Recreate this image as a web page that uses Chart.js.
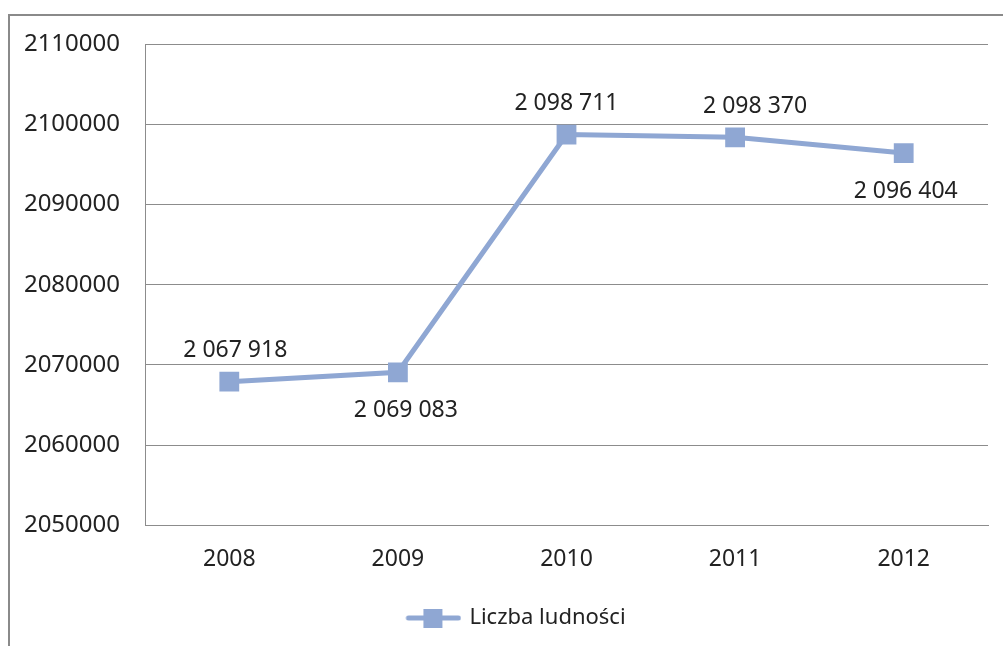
<!DOCTYPE html>
<html>
<head>
<meta charset="utf-8">
<script src="https://cdn.jsdelivr.net/npm/chart.js@4.4.0/dist/chart.umd.min.js"></script>
<style>
html,body{margin:0;padding:0;background:#fff;overflow:hidden;}
#wrap{position:relative;width:1003px;height:646px;}
#frame{position:absolute;left:8px;top:14px;width:1100px;height:700px;border-left:2px solid #8a8a8a;border-top:2px solid #8a8a8a;}
canvas{position:absolute;left:0;top:0;}
</style>
</head>
<body>
<div id="wrap"><div id="frame"></div><canvas id="myChart" width="1003" height="646"></canvas></div>
<script>
'use strict';

const years=['2008','2009','2010','2011','2012'];
const population=[2067918,2069083,2098711,2098370,2096404];
const labelSide=['above','below','above','above','below'];
const yMin=2050000;
const yMax=2110000;
const yStep=10000;

const lineColor='#8fa7d3';
const textColor='#222222';
const fontFamily='"Noto Sans", "Open Sans", sans-serif';
// small horizontal nudges for the value labels (pixels)
const labelNudge=[6,8,0,20,2];

function formatNum(n){
  return String(n).replace(/\B(?=(\d{3})+(?!\d))/g,' ');
}

// legend icon: line with square marker, like the office chart
// (blank space on the left pushes the centered legend a bit to the right)
const iconShift=46;
const legendIcon=document.createElement('canvas');
legendIcon.width=56+iconShift;
legendIcon.height=20;
let ic=legendIcon.getContext('2d');
ic.strokeStyle=lineColor;
ic.lineWidth=5;
ic.lineCap='round';
ic.beginPath();
ic.moveTo(iconShift+3,10);
ic.lineTo(iconShift+53,10);
ic.stroke();
ic.fillStyle=lineColor;
ic.fillRect(iconShift+18,1,19,19);

const pointLabels={
  id:'pointLabels',
  afterDatasetsDraw(chart){
    const ctx=chart.ctx;
    const meta=chart.getDatasetMeta(0);
    ctx.save();
    ctx.font='23px '+fontFamily;
    ctx.fillStyle=textColor;
    ctx.textAlign='center';
    ctx.textBaseline='middle';
    meta.data.forEach(function(pt,i){
      let dy=labelSide[i]==='above'?-31:38;
      ctx.fillText(formatNum(population[i]),pt.x+labelNudge[i],pt.y+dy);
    });
    ctx.restore();
  }
};

let ctx=document.getElementById('myChart').getContext('2d');
let myChart=new Chart(ctx,{
  type:'line',
  data:{
    labels:years,
    datasets:[{
      label:'Liczba ludności',
      data:population,
      borderColor:lineColor,
      backgroundColor:lineColor,
      borderWidth:5,
      pointStyle:'rect',
      pointRadius:14,
      pointHoverRadius:14,
      pointBorderWidth:0,
      tension:0
    }]
  },
  options:{
    responsive:false,
    animation:false,
    layout:{
      padding:{top:44,right:15,bottom:7,left:0}
    },
    plugins:{
      tooltip:{enabled:false},
      legend:{
        position:'bottom',
        labels:{
          usePointStyle:true,
          pointStyle:legendIcon,
          pointStyleWidth:50+iconShift,
          color:textColor,
          font:{family:fontFamily,size:22},
          padding:14
        }
      }
    },
    scales:{
      x:{
        offset:true,
        grid:{display:false,drawTicks:false},
        border:{display:true,color:'#8c8c8c',width:1},
        ticks:{color:textColor,font:{family:fontFamily,size:23},padding:20}
      },
      y:{
        min:yMin,
        max:yMax,
        afterFit:function(scale){scale.width=145;},
        grid:{color:'#8c8c8c',lineWidth:1,drawTicks:false},
        border:{display:true,color:'#8c8c8c',width:1},
        ticks:{
          stepSize:yStep,
          color:textColor,
          font:{family:fontFamily,size:24},
          padding:25,
          callback:function(v){return String(v);}
        }
      }
    }
  },
  plugins:[pointLabels]
});
</script>
</body>
</html>
